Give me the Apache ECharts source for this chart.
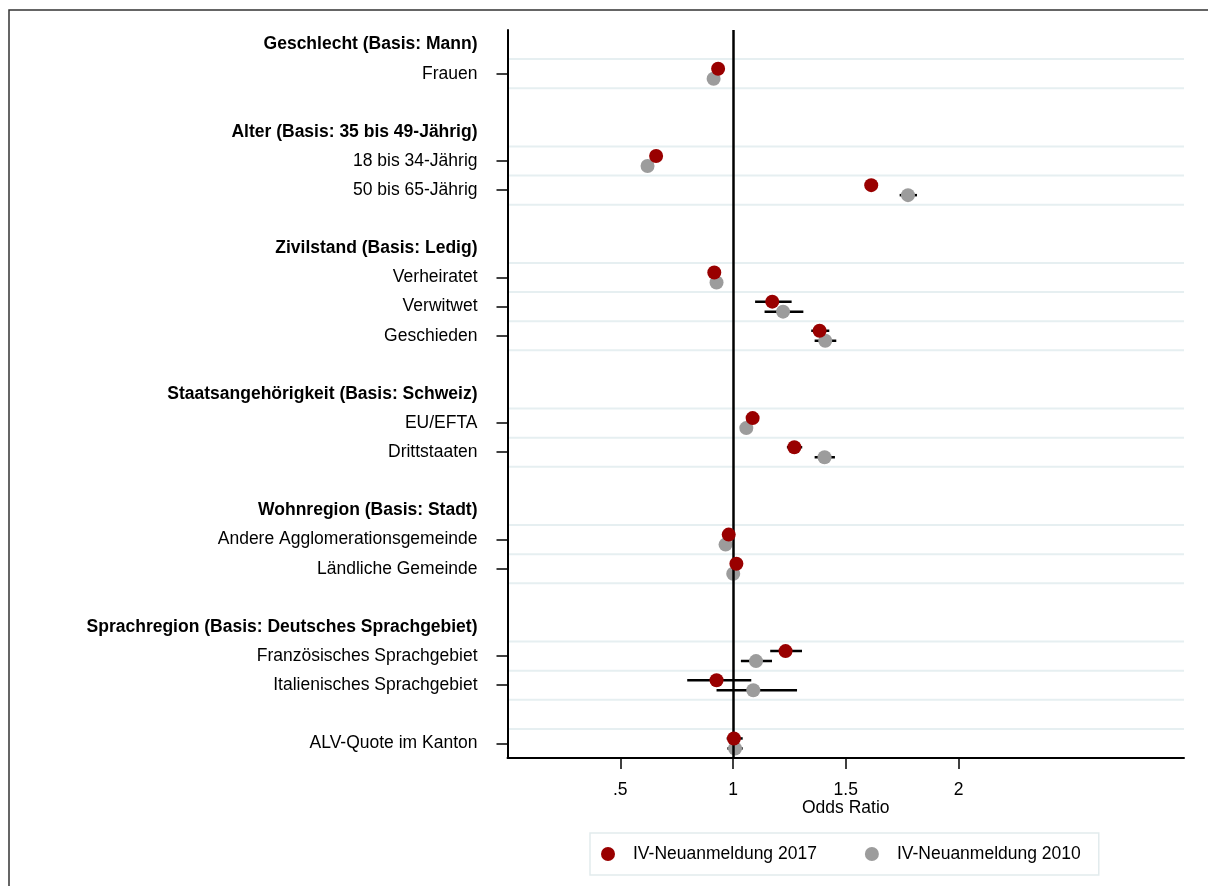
<!DOCTYPE html>
<html>
<head>
<meta charset="utf-8">
<script src="https://cdn.jsdelivr.net/npm/echarts@6/dist/echarts.min.js"></script>
<style>html,body{margin:0;padding:0;background:#fff;}#c{width:1208px;height:886px;}</style>
</head>
<body>
<div id="c"></div>
<script>
const categories = [
  'Geschlecht (Basis: Mann)', 'Frauen', '',
  'Alter (Basis: 35 bis 49-Jährig)', '18 bis 34-Jährig', '50 bis 65-Jährig', '',
  'Zivilstand (Basis: Ledig)', 'Verheiratet', 'Verwitwet', 'Geschieden', '',
  'Staatsangehörigkeit (Basis: Schweiz)', 'EU/EFTA', 'Drittstaaten', '',
  'Wohnregion (Basis: Stadt)', 'Andere Agglomerationsgemeinde', 'Ländliche Gemeinde', '',
  'Sprachregion (Basis: Deutsches Sprachgebiet)', 'Französisches Sprachgebiet', 'Italienisches Sprachgebiet', '',
  'ALV-Quote im Kanton'
];
const headerRows = [0, 3, 7, 12, 16, 20];
const itemRows = [1, 4, 5, 8, 9, 10, 13, 14, 17, 18, 21, 22, 24];

const or2017 = [0.934, 0.659, 1.613, 0.917, 1.174, 1.384, 1.087, 1.272, 0.981, 1.015, 1.233, 0.927, 1.004];
const lo2017 = [0.920, 0.645, 1.585, 0.900, 1.098, 1.347, 1.060, 1.239, 0.962, 0.993, 1.165, 0.797, 0.972];
const hi2017 = [0.950, 0.673, 1.642, 0.935, 1.260, 1.427, 1.115, 1.307, 1.000, 1.037, 1.306, 1.081, 1.043];

const or2010 = [0.914, 0.621, 1.776, 0.927, 1.222, 1.409, 1.059, 1.406, 0.967, 1.001, 1.102, 1.090, 1.009];
const lo2010 = [0.900, 0.608, 1.739, 0.910, 1.140, 1.362, 1.035, 1.362, 0.950, 0.980, 1.035, 0.927, 0.975];
const hi2010 = [0.930, 0.634, 1.816, 0.945, 1.312, 1.458, 1.084, 1.452, 0.985, 1.022, 1.173, 1.284, 1.043];

const xTicks = [0.5, 1, 1.5, 2];
const seriesNames = ['IV-Neuanmeldung 2017', 'IV-Neuanmeldung 2010'];

const RED = '#990000', GREY = '#9c9c9c';
const FONT = "'Liberation Sans', Arial, sans-serif";
const FS = 17.5;

const gridRows = [];
itemRows.forEach(r => { [r - 0.5, r + 0.5].forEach(v => { if (gridRows.indexOf(v) < 0) gridRows.push(v); }); });

function ciRender(offset) {
  return function (params, api) {
    const p1 = api.coord([api.value(0), api.value(2)]);
    const p2 = api.coord([api.value(1), api.value(2)]);
    return { type: 'line', shape: { x1: p1[0], y1: p1[1] + offset, x2: p2[0], y2: p2[1] + offset },
      style: { stroke: '#000', lineWidth: 2.5 } };
  };
}

const chart = echarts.init(document.getElementById('c'), null, { renderer: 'canvas' });
chart.setOption({
  animation: false,
  backgroundColor: '#fff',
  textStyle: { fontFamily: FONT },
  graphic: [{
    type: 'rect', silent: true, z: 100,
    shape: { x: 9, y: 10, width: 1400, height: 1000 },
    style: { fill: 'none', stroke: '#333', lineWidth: 1.5 }
  }],
  grid: { left: 507.5, right: 24, top: 30, bottom: 128, containLabel: false },
  legend: {
    data: seriesNames,
    left: 590, top: 833,
    orient: 'horizontal',
    icon: 'circle', itemWidth: 14, itemHeight: 14, itemGap: 48,
    padding: [12, 18, 12, 11],
    borderColor: '#e2ebed', borderWidth: 1.5,
    textStyle: { fontSize: FS, color: '#000', fontFamily: FONT, padding: [0, 0, 0, 13] }
  },
  xAxis: {
    type: 'value', min: 0, max: 3, z: 10,
    name: 'Odds Ratio', nameLocation: 'middle', nameGap: 41, nameMoveOverlap: false,
    nameTextStyle: { fontSize: FS, color: '#000', fontFamily: FONT },
    axisLine: { show: true, onZero: false, lineStyle: { color: '#000', width: 2 } },
    axisTick: { show: true, customValues: xTicks, length: 11, lineStyle: { color: '#000', width: 1.5 } },
    axisLabel: { customValues: xTicks, margin: 23, fontSize: FS, color: '#000', fontFamily: FONT,
      formatter: v => (v === 0.5 ? '.5' : String(v)) },
    splitLine: { show: false }
  },
  yAxis: {
    type: 'value', min: -0.5, max: 24.5, inverse: true, z: 10,
    axisLine: { show: true, onZero: false, lineStyle: { color: '#000', width: 2 } },
    axisTick: { show: true, customValues: itemRows, length: 11, lineStyle: { color: '#000', width: 1.5 } },
    axisLabel: {
      customValues: categories.map((c, i) => i),
      margin: 30, color: '#000', fontFamily: FONT,
      formatter: v => {
        const t = categories[Math.round(v)] || '';
        if (!t) return '';
        return headerRows.indexOf(Math.round(v)) >= 0 ? '{h|' + t + '}' : '{n|' + t + '}';
      },
      rich: {
        h: { fontSize: FS, fontWeight: 'bold', color: '#000', fontFamily: FONT },
        n: { fontSize: FS, color: '#000', fontFamily: FONT }
      }
    },
    splitLine: { show: false }
  },
  series: [
    {
      type: 'custom', name: 'grid', silent: true, z: 1,
      data: gridRows.map(v => [0, v]),
      encode: { x: 0, y: 1 },
      renderItem: function (params, api) {
        const a = api.coord([0, api.value(1)]);
        const b = api.coord([3, api.value(1)]);
        return { type: 'line', shape: { x1: a[0], y1: a[1], x2: b[0], y2: b[1] },
          style: { stroke: '#e6eff1', lineWidth: 2 } };
      },
      markLine: {
        silent: true, symbol: 'none', label: { show: false },
        lineStyle: { color: '#000', width: 2.5, type: 'solid' },
        data: [{ xAxis: 1 }]
      }
    },
    {
      type: 'custom', name: 'ci2017', silent: true, z: 3,
      data: itemRows.map((r, i) => [lo2017[i], hi2017[i], r]),
      encode: { x: [0, 1], y: 2 },
      renderItem: ciRender(-5)
    },
    {
      type: 'custom', name: 'ci2010', silent: true, z: 3,
      data: itemRows.map((r, i) => [lo2010[i], hi2010[i], r]),
      encode: { x: [0, 1], y: 2 },
      renderItem: ciRender(5)
    },
    {
      type: 'scatter', name: seriesNames[0], z: 5,
      symbol: 'circle', symbolSize: 14, symbolOffset: [0, -5],
      itemStyle: { color: RED, opacity: 1 },
      data: itemRows.map((r, i) => [or2017[i], r])
    },
    {
      type: 'scatter', name: seriesNames[1], z: 4,
      symbol: 'circle', symbolSize: 14, symbolOffset: [0, 5],
      itemStyle: { color: GREY, opacity: 1 },
      data: itemRows.map((r, i) => [or2010[i], r])
    }
  ]
});
</script>
</body>
</html>
